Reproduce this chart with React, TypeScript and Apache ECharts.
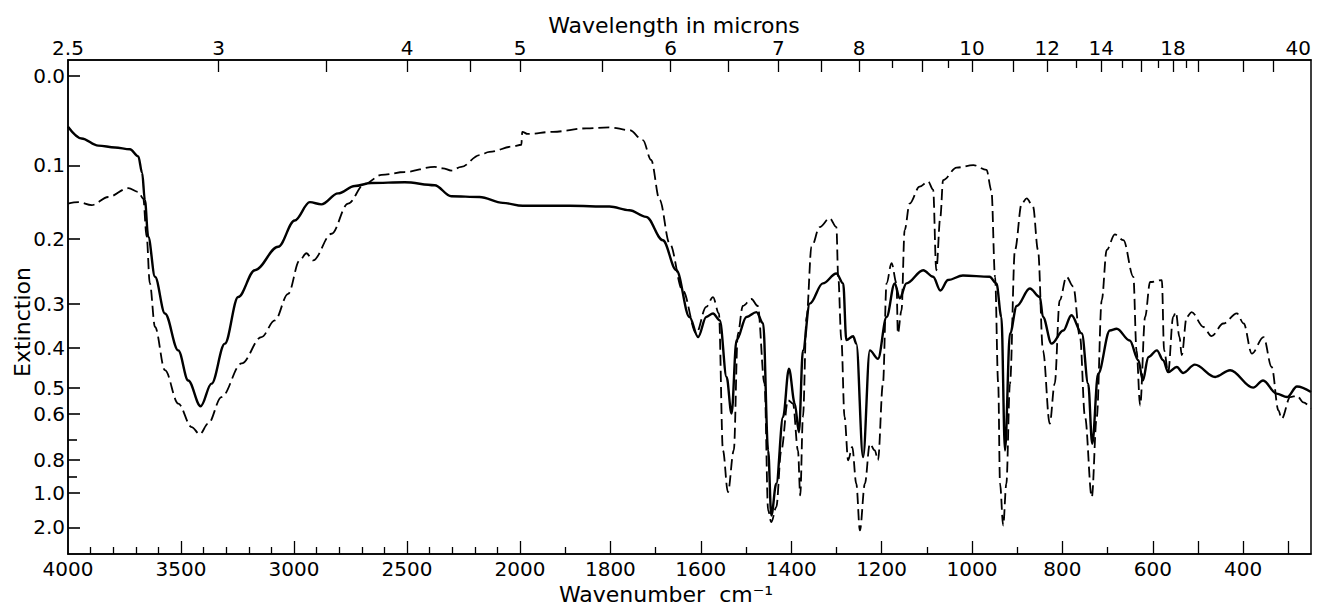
import React, { useEffect, useRef } from "react";
import * as echarts from "echarts";

// ---- Data ----
const solidWavenumber = [
  4000, 3940, 3866, 3792, 3726, 3689, 3672, 3660, 3645, 3615, 3571, 3512, 3468, 3413, 3365, 3306, 3247, 3173, 3070, 2997,
  2930, 2879, 2805, 2731, 2658, 2510, 2378, 2304, 2179, 2076, 1994, 1890, 1802, 1758, 1721, 1684, 1654, 1625, 1606, 1588,
  1573, 1558, 1543, 1532, 1521, 1499, 1477, 1462, 1451, 1444, 1433, 1418, 1405, 1392, 1383, 1374, 1359, 1330, 1300, 1285,
  1278, 1263, 1256, 1241, 1226, 1208, 1189, 1171, 1160, 1145, 1108, 1086, 1070, 1053, 1020, 961, 946, 935, 927, 916,
  901, 872, 850, 843, 824, 798, 780, 757, 743, 734, 721, 695, 680, 651, 632, 622, 610, 591, 577, 566,
  547, 533, 507, 462, 429, 378, 356, 326, 303, 281, 250,
];
const solidExtinction = [
  0.057, 0.07, 0.078, 0.08, 0.082, 0.09, 0.11, 0.147, 0.197, 0.258, 0.321, 0.406, 0.482, 0.571, 0.49, 0.39, 0.289, 0.248, 0.212, 0.175,
  0.15, 0.153, 0.138, 0.128, 0.124, 0.123, 0.127, 0.142, 0.143, 0.151, 0.155, 0.155, 0.156, 0.161, 0.17, 0.202, 0.248, 0.329, 0.375, 0.329,
  0.321, 0.337, 0.473, 0.599, 0.382, 0.329, 0.318, 0.344, 0.753, 1.575, 0.945, 0.612, 0.452, 0.561, 0.671, 0.406, 0.299, 0.268, 0.253, 0.268,
  0.382, 0.373, 0.39, 0.786, 0.406, 0.427, 0.329, 0.268, 0.291, 0.268, 0.248, 0.258, 0.279, 0.263, 0.256, 0.258, 0.268, 0.329, 0.753, 0.367,
  0.304, 0.276, 0.289, 0.329, 0.39, 0.36, 0.325, 0.367, 0.49, 0.72, 0.465, 0.36, 0.356, 0.383, 0.431, 0.482, 0.423, 0.406, 0.431, 0.461,
  0.448, 0.463, 0.442, 0.473, 0.456, 0.5, 0.482, 0.523, 0.536, 0.497, 0.517,
];

const dashedWavenumber = [
  4000, 3954, 3895, 3822, 3733, 3689, 3667, 3652, 3638, 3615, 3571, 3512, 3453, 3417, 3380, 3321, 3232, 3144, 3085, 3026,
  2975, 2945, 2916, 2834, 2761, 2687, 2613, 2510, 2378, 2341, 2304, 2260, 2179, 2135, 2032, 1997, 1995, 1983, 1927, 1853,
  1802, 1758, 1728, 1710, 1691, 1669, 1640, 1610, 1588, 1573, 1560, 1551, 1540, 1527, 1518, 1507, 1488, 1474, 1459, 1451,
  1444, 1433, 1422, 1407, 1396, 1385, 1380, 1374, 1366, 1355, 1337, 1315, 1300, 1296, 1289, 1282, 1274, 1265, 1256, 1248,
  1237, 1226, 1215, 1208, 1197, 1189, 1178, 1167, 1164, 1156, 1149, 1138, 1116, 1097, 1086, 1079, 1070, 1064, 1034, 997,
  968, 957, 949, 942, 938, 931, 924, 916, 905, 890, 879, 865, 854, 843, 828, 817, 806, 791, 776, 761,
  750, 735, 724, 713, 702, 684, 665, 643, 636, 628, 617, 606, 580, 575, 566, 555, 549, 541, 536, 525,
  514, 488, 470, 444, 414, 399, 381, 355, 337, 322, 315, 296, 281, 267, 250,
];
const dashedExtinction = [
  0.152, 0.15, 0.154, 0.143, 0.131, 0.136, 0.145, 0.197, 0.268, 0.352, 0.456, 0.561, 0.651, 0.679, 0.638, 0.536, 0.439, 0.375, 0.337, 0.284,
  0.233, 0.222, 0.233, 0.193, 0.152, 0.125, 0.113, 0.109, 0.102, 0.104, 0.107, 0.102, 0.0885, 0.085, 0.079, 0.077, 0.0626, 0.065, 0.0626, 0.0588,
  0.0577, 0.0607, 0.0718, 0.094, 0.147, 0.207, 0.279, 0.366, 0.306, 0.289, 0.321, 0.753, 0.997, 0.753, 0.367, 0.304, 0.292, 0.304, 0.49, 1.425,
  1.8, 1.335, 0.753, 0.548, 0.561, 0.753, 1.057, 0.612, 0.329, 0.212, 0.184, 0.172, 0.184, 0.258, 0.382, 0.612, 0.802, 0.736, 0.945, 2.12,
  0.945, 0.72, 0.753, 0.802, 0.49, 0.268, 0.237, 0.268, 0.367, 0.314, 0.188, 0.152, 0.129, 0.122, 0.133, 0.248, 0.17, 0.12, 0.103, 0.0997,
  0.106, 0.134, 0.258, 0.49, 0.945, 1.92, 0.945, 0.49, 0.217, 0.152, 0.145, 0.156, 0.217, 0.406, 0.638, 0.49, 0.294, 0.258, 0.273, 0.375,
  0.612, 1.094, 0.612, 0.294, 0.217, 0.194, 0.202, 0.258, 0.406, 0.568, 0.329, 0.266, 0.263, 0.406, 0.461, 0.329, 0.318, 0.375, 0.418, 0.329,
  0.318, 0.352, 0.373, 0.344, 0.321, 0.344, 0.414, 0.375, 0.448, 0.587, 0.619, 0.536, 0.531, 0.556, 0.58,
];

// Tick labels
const wavenumberLabels = [4000, 3500, 3000, 2500, 2000, 1800, 1600, 1400, 1200, 1000, 800, 600, 400];
const wavenumberMajorTicks = [3500, 3000, 2500, 2000, 1800, 1600, 1400, 1200, 1000, 800, 600, 500, 400, 300];
const wavenumberMinorTicks = [
  3900, 3800, 3700, 3600, 3400, 3300, 3200, 3100, 2900, 2800, 2700, 2600, 2400, 2300, 2200, 2100,
  1900, 1700, 1500, 1300, 1100, 900, 700,
];
const wavelengthLabels = [2.5, 3, 4, 5, 6, 7, 8, 10, 12, 14, 18, 40];
const wavelengthMajorTicks = [3, 3.5, 4, 4.5, 5, 5.5, 6, 6.5, 7, 7.5, 8, 9, 10, 11, 12, 14, 16, 18, 20, 25, 30];
const wavelengthMinorTicks = [8.5, 9.5, 13, 15, 17, 19];
const extinctionLabels = [0.0, 0.1, 0.2, 0.3, 0.4, 0.5, 0.6, 0.8, 1.0, 2.0];
const extinctionMinorTicks = [0.7, 0.9];

// Axis scale of the chart paper (extinction -> paper coordinate from top edge)
const extinctionScale: [number, number][] = [
  [0.0, 15.5], [0.1, 105.3], [0.2, 178.7], [0.3, 244], [0.4, 287.7], [0.5, 327.3],
  [0.6, 353.5], [0.7, 379.3], [0.8, 399.6], [0.9, 416], [1.0, 432.2], [2.0, 467],
];
const Y_MAX = 493.5;
const WN_MIN = 250;

// Wavenumber scale: 2x expanded below 2000 cm-1
function wnToU(wn: number): number {
  return wn >= 2000 ? (4000 - wn) / 2 : 1000 + (2000 - wn);
}
function eToU(e: number): number {
  const s = extinctionScale;
  if (e >= 1.0) {
    const u = s[10][1] + (Math.log(e) / Math.log(2)) * (s[11][1] - s[10][1]);
    return Math.min(u, Y_MAX);
  }
  for (let i = 0; i < s.length - 1; i++) {
    const [e0, u0] = s[i];
    const [e1, u1] = s[i + 1];
    if (e >= e0 && e <= e1) return u0 + ((e - e0) / (e1 - e0)) * (u1 - u0);
  }
  return s[0][1] + (e / 0.1) * (s[1][1] - s[0][1]);
}

const X_MAX = wnToU(WN_MIN);
const FONT = "DejaVu Sans";

function near(list: number[], f: (v: number) => number, value: number): number | null {
  for (const v of list) if (Math.abs(f(v) - value) < 0.01) return v;
  return null;
}

export default function App() {
  const ref = useRef<HTMLDivElement>(null);
  useEffect(() => {
    if (!ref.current) return;
    const chart = echarts.init(ref.current, null, { renderer: "svg" });
    const solid = solidWavenumber.map((w, i) => [wnToU(w), eToU(solidExtinction[i])]);
    const dashed = dashedWavenumber.map((w, i) => [wnToU(w), eToU(dashedExtinction[i])]);
    const lamToU = (l: number) => wnToU(10000 / l);

    const line = { show: true, onZero: false, lineStyle: { color: "#000", width: 1.5 } };
    const noLine = { show: false, onZero: false };
    const baseX = { type: "value" as const, min: 0, max: X_MAX, splitLine: { show: false } };
    const baseY = { type: "value" as const, min: 0, max: Y_MAX, inverse: true, splitLine: { show: false } };
    const labelStyle = { color: "#000", fontFamily: FONT, fontSize: 20 };
    const tick = (length: number, values: number[], width = 1.3) => ({
      show: true,
      inside: true,
      length,
      lineStyle: { color: "#000", width },
      customValues: values,
    });
    const gridBox = { left: 68, right: 6, top: 60, bottom: 51, outerBoundsMode: "none" };
    const titleFont = `22px '${FONT}'`;

    // tick-only axes for a helper grid
    const tickX = (gridIndex: number, position: string, length: number, values: number[]) => ({
      ...baseX,
      gridIndex,
      position,
      axisLine: noLine,
      axisTick: tick(length, values),
      axisLabel: { show: false },
    });
    const tickY = (gridIndex: number, length: number, values: number[]) => ({
      ...baseY,
      gridIndex,
      position: "left",
      axisLine: noLine,
      axisTick: tick(length, values, 1.6),
      axisLabel: { show: false },
    });

    chart.setOption({
      animation: false,
      backgroundColor: "#fff",
      grid: [
        { ...gridBox, show: true, borderColor: "#000", borderWidth: 1.5 },
        { ...gridBox, show: false },
        { ...gridBox, show: false },
      ],
      xAxis: [
        {
          ...baseX,
          gridIndex: 0,
          position: "bottom",
          axisLine: line,
          axisTick: { show: false },
          axisLabel: {
            ...labelStyle,
            margin: 5,
            customValues: wavenumberLabels.map(wnToU),
            formatter: (v: number) => {
              const w = near(wavenumberLabels, wnToU, v);
              return w === null ? "" : String(w);
            },
          },
        },
        {
          ...baseX,
          gridIndex: 0,
          position: "top",
          axisLine: line,
          axisTick: { show: false },
          axisLabel: {
            ...labelStyle,
            margin: 2,
            alignMaxLabel: "right",
            customValues: wavelengthLabels.map(lamToU),
            formatter: (v: number) => {
              const l = near(wavelengthLabels, lamToU, v);
              return l === null ? "" : String(l);
            },
          },
        },
        tickX(1, "bottom", 7, wavenumberMinorTicks.map(wnToU)),
        tickX(1, "top", 8, wavelengthMinorTicks.map(lamToU)),
        tickX(2, "bottom", 13, wavenumberMajorTicks.map(wnToU)),
        tickX(2, "top", 12, wavelengthMajorTicks.map(lamToU)),
      ],
      yAxis: [
        {
          ...baseY,
          gridIndex: 0,
          position: "left",
          axisLine: line,
          axisTick: { show: false },
          axisLabel: {
            ...labelStyle,
            margin: 3,
            customValues: extinctionLabels.map(eToU),
            formatter: (v: number) => {
              const e = near(extinctionLabels, eToU, v);
              return e === null ? "" : e.toFixed(1);
            },
          },
        },
        tickY(1, 9, extinctionMinorTicks.map(eToU)),
        tickY(2, 12, extinctionLabels.map(eToU)),
      ],
      graphic: [
        {
          type: "text",
          x: 674,
          y: 25,
          style: { text: "Wavelength in microns", font: titleFont, fill: "#000", align: "center", verticalAlign: "middle" },
        },
        {
          type: "text",
          x: 666,
          y: 594,
          style: { text: "Wavenumber  cm\u207B\u00B9", font: titleFont, fill: "#000", align: "center", verticalAlign: "middle" },
        },
        {
          type: "text",
          x: 22,
          y: 322,
          rotation: Math.PI / 2,
          style: { text: "Extinction", font: titleFont, fill: "#000", align: "center", verticalAlign: "middle" },
        },
      ],
      series: [
        {
          name: "solid",
          type: "line",
          xAxisIndex: 0,
          yAxisIndex: 0,
          data: solid,
          showSymbol: false,
          smooth: 0.35,
          smoothMonotone: "x",
          lineStyle: { color: "#000", width: 2.4, type: "solid" },
          z: 3,
        },
        {
          name: "dashed",
          type: "line",
          xAxisIndex: 0,
          yAxisIndex: 0,
          data: dashed,
          showSymbol: false,
          smooth: 0.35,
          smoothMonotone: "x",
          lineStyle: { color: "#000", width: 1.8, type: [11, 5] },
          z: 2,
        },
      ],
    });
    return () => chart.dispose();
  }, []);
  return (
    <div
      ref={ref}
      style={{ position: "fixed", left: 0, top: 0, width: 1317, height: 605, background: "#fff" }}
    />
  );
}
